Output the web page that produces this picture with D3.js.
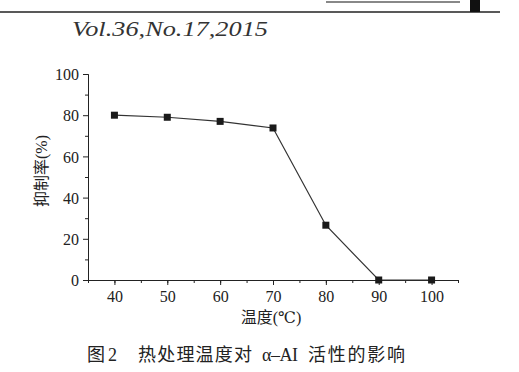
<!DOCTYPE html>
<html>
<head>
<meta charset="utf-8">
<script src="https://cdn.jsdelivr.net/npm/d3@7"></script>
<style>
  body { margin: 0; background: #fff; }
  svg { display: block; }
  .serif { font-family: "Liberation Serif", "Times New Roman", "DejaVu Serif", "Noto Sans CJK SC", serif; }
  .eje text { font-family: "Liberation Serif", "Times New Roman", "DejaVu Serif", serif; font-size: 16px; fill: #222; }
  .eje path, .eje line { stroke: #222; }
</style>
</head>
<body>
<div id="graf"></div>
<script>
// datos
temperaturas = [40, 50, 60, 70, 80, 90, 100]
inhibicion = [80, 79, 77, 73.8, 26.6, 0, 0]
ticksX = [40, 50, 60, 70, 80, 90, 100]
ticksY = [0, 20, 40, 60, 80, 100]
titulo = 'Vol.36,No.17,2015'
etiquetaX = '温度(℃)'
etiquetaY = '抑制率(%)'
leyenda = ['图 2', '热处理温度对', 'α–AI', '活性的影响']

ancho_total = 519
alto_total = 372
margins = { top: 74, left: 88, right: 61, bottom: 92 }
ancho = ancho_total - margins.left - margins.right
alto = alto_total - margins.top - margins.bottom

svg = d3.select('#graf').append('svg')
  .attr('width', ancho_total)
  .attr('height', alto_total)

// cabecera de la revista
svg.append('line')
  .attr('x1', 0).attr('x2', 500).attr('y1', 12).attr('y2', 12)
  .attr('stroke', '#222').attr('stroke-width', 1.3)
svg.append('line')
  .attr('x1', 326).attr('x2', 460).attr('y1', 2).attr('y2', 2)
  .attr('stroke', '#888').attr('stroke-width', 2)
svg.append('rect')
  .attr('x', 470).attr('y', 0).attr('width', 10).attr('height', 12)
  .attr('fill', '#111')
svg.append('text')
  .attr('class', 'serif')
  .attr('x', 72).attr('y', 36)
  .attr('textLength', 196)
  .attr('lengthAdjust', 'spacingAndGlyphs')
  .style('font-style', 'italic')
  .style('font-size', '21px')
  .style('fill', '#333')
  .text(titulo)

g = svg.append('g')
  .attr('transform', `translate(${ margins.left }, ${ margins.top })`)

// escalas
x = d3.scaleLinear().domain([35, 105]).range([0, ancho])
y = d3.scaleLinear().domain([0, 100]).range([alto, 0])

// ejes (ticks menores primero)
g.append('g')
  .attr('transform', `translate(0, ${ alto })`)
  .attr('class', 'eje')
  .call(d3.axisBottom(x).tickValues(d3.range(35, 106, 5)).tickSize(3).tickFormat(''))
g.append('g')
  .attr('class', 'eje')
  .call(d3.axisLeft(y).tickValues(d3.range(10, 100, 20)).tickSize(3).tickFormat(''))

xAxis = g.append('g')
  .attr('transform', `translate(0, ${ alto })`)
  .attr('class', 'eje')
  .call(d3.axisBottom(x).tickValues(ticksX).tickSize(5).tickSizeOuter(0).tickPadding(6))
yAxis = g.append('g')
  .attr('class', 'eje')
  .call(d3.axisLeft(y).tickValues(ticksY).tickSize(5).tickSizeOuter(0).tickPadding(4))
yAxis.selectAll('text').attr('dy', '0.36em')

// linea de datos
datos = temperaturas.map((t, i) => ({ t: t, v: inhibicion[i] }))
linea = d3.line().x(d => x(d.t)).y(d => y(d.v))
g.append('path')
  .datum(datos)
  .attr('d', linea)
  .attr('fill', 'none')
  .attr('stroke', '#333')
  .attr('stroke-width', 1.2)

g.selectAll('rect.punto')
  .data(datos)
  .enter()
  .append('rect')
    .attr('class', 'punto')
    .attr('x', d => x(d.t) - 3.5)
    .attr('y', d => y(d.v) - 3.5)
    .attr('width', 7)
    .attr('height', 7)
    .attr('fill', '#1a1a1a')

// etiquetas de ejes
svg.append('text')
  .attr('class', 'serif')
  .attr('x', 271).attr('y', 323)
  .attr('text-anchor', 'middle')
  .style('font-size', '16px')
  .style('fill', '#222')
  .text(etiquetaX)
svg.append('text')
  .attr('class', 'serif')
  .attr('transform', 'translate(47, 171) rotate(-90)')
  .attr('text-anchor', 'middle')
  .style('font-size', '16px')
  .style('fill', '#222')
  .text(etiquetaY)

// leyenda de la figura
posLeyenda = [87, 138, 262, 308]
anchoLeyenda = [30, 114, 36, 97]
leyendaTxt = svg.append('text')
  .attr('class', 'serif')
  .attr('y', 361)
  .style('font-size', '18px')
  .style('fill', '#222')
leyenda.forEach((s, i) => {
  leyendaTxt.append('tspan')
    .attr('x', posLeyenda[i])
    .attr('textLength', anchoLeyenda[i])
    .text(s)
})
</script>
</body>
</html>
